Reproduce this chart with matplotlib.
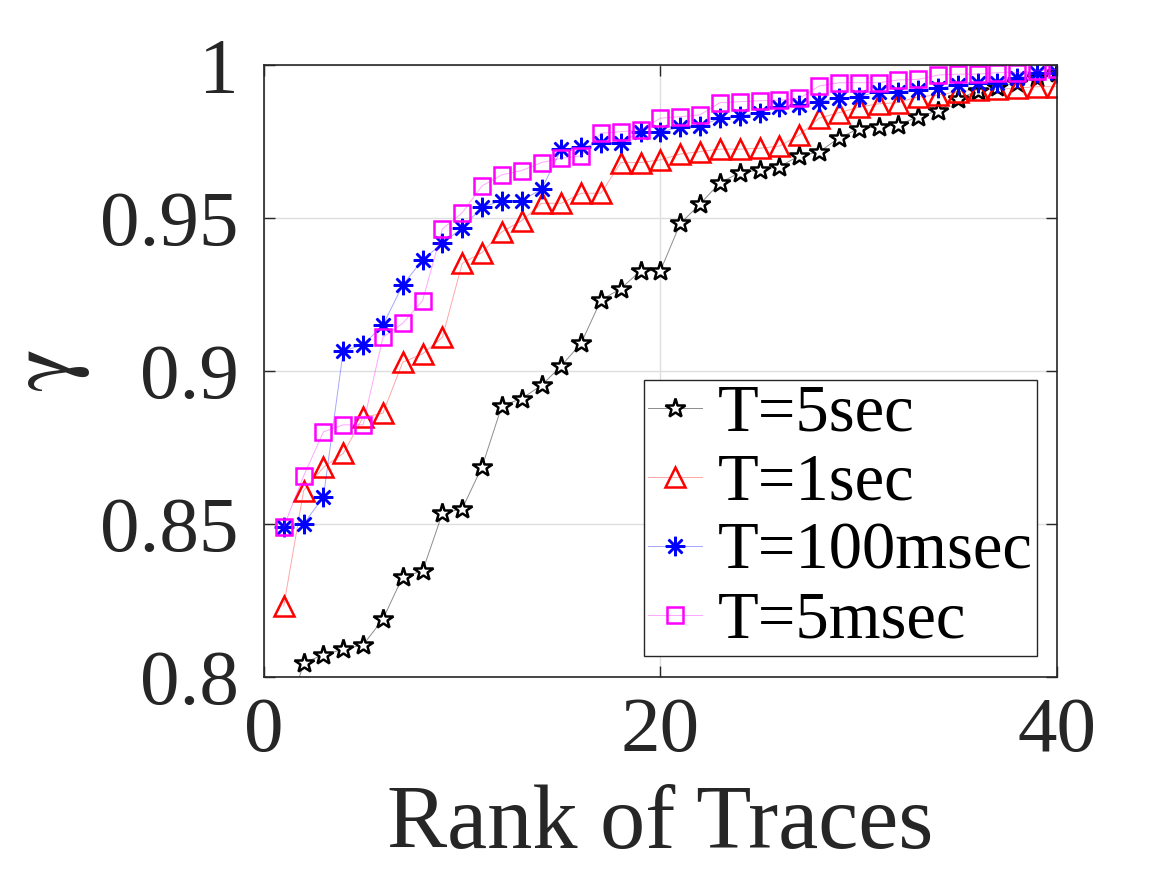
import numpy as np
import matplotlib
matplotlib.use('Agg')
import matplotlib.pyplot as plt

# Values
rank = np.arange(1, 41)

gamma_5sec = [0.782, 0.8046, 0.8071, 0.8090, 0.8104, 0.8188, 0.8327, 0.8345, 0.8534, 0.8549,
              0.8686, 0.8885, 0.8909, 0.8952, 0.9016, 0.9090, 0.9231, 0.9268, 0.9327, 0.9327,
              0.9481, 0.9545, 0.9614, 0.9647, 0.9656, 0.9667, 0.9702, 0.9715, 0.9760, 0.9791,
              0.9797, 0.9803, 0.9830, 0.9849, 0.9887, 0.9915, 0.9926, 0.9941, 0.9955, 0.9974]

gamma_1sec = [0.8232, 0.8608, 0.8684, 0.8730, 0.8848, 0.8861, 0.9028, 0.9055, 0.9109, 0.9351,
              0.9386, 0.9454, 0.9490, 0.9547, 0.9547, 0.9580, 0.9580, 0.9680, 0.9680, 0.9689,
              0.9708, 0.9716, 0.9724, 0.9724, 0.9727, 0.9734, 0.9770, 0.9825, 0.9843, 0.9861,
              0.9872, 0.9876, 0.9895, 0.9901, 0.9912, 0.9917, 0.9920, 0.9923, 0.9928, 0.9928]

gamma_100msec = [0.8490, 0.8499, 0.8588, 0.9065, 0.9084, 0.9149, 0.9280, 0.9362, 0.9416, 0.9467,
                 0.9534, 0.9556, 0.9556, 0.9593, 0.9724, 0.9730, 0.9743, 0.9745, 0.9781, 0.9781,
                 0.9795, 0.9800, 0.9825, 0.9832, 0.9843, 0.9863, 0.9868, 0.9879, 0.9890, 0.9895,
                 0.9912, 0.9912, 0.9917, 0.9923, 0.9934, 0.9939, 0.9939, 0.9955, 0.9972, 0.9974]

gamma_5msec = [0.8490, 0.8656, 0.8800, 0.8823, 0.8823, 0.9109, 0.9155, 0.9229, 0.9463, 0.9516,
               0.9604, 0.9640, 0.9654, 0.9680, 0.9694, 0.9702, 0.9776, 0.9781, 0.9787, 0.9825,
               0.9830, 0.9836, 0.9876, 0.9879, 0.9882, 0.9884, 0.9890, 0.9930, 0.9941, 0.9941,
               0.9941, 0.9950, 0.9952, 0.9966, 0.9969, 0.9969, 0.9974, 0.9974, 0.9980, 0.9985]

x_ticks = [0, 20, 40]
y_ticks = [0.8, 0.85, 0.9, 0.95, 1.0]
y_tick_labels = ['0.8', '0.85', '0.9', '0.95', '1']

plt.rcParams['font.family'] = ['Liberation Serif', 'DejaVu Serif']
plt.rcParams['mathtext.fontset'] = 'stix'

fig = plt.figure(figsize=(11.67, 8.75), dpi=100)
ax = fig.add_axes([0.2262, 0.2266, 0.6795, 0.6995])

asterisk = (8, 2, 0)
ax.plot(rank, gamma_5sec, color=(0, 0, 0, 0.45), lw=0.7, marker='*', ms=15,
        mfc='white', mec='k', mew=1.8, label='T=5sec')
ax.plot(rank, gamma_1sec, color=(1, 0, 0, 0.35), lw=0.7, marker='^', ms=14,
        mfc='none', mec='red', mew=1.8, label='T=1sec')
ax.plot(rank, gamma_100msec, color=(0, 0, 1, 0.35), lw=0.7, marker=asterisk, ms=14,
        mfc='none', mec='blue', mew=1.8, label='T=100msec')
ax.plot(rank, gamma_5msec, color=(1, 0, 1, 0.35), lw=0.7, marker='s', ms=11,
        mfc='none', mec='magenta', mew=1.8, label='T=5msec')

ax.set_xlim(0, 40)
ax.set_ylim(0.8, 1.0)
ax.set_xticks(x_ticks)
ax.set_yticks(y_ticks)
ax.set_yticklabels(y_tick_labels)
ax.grid(True, color='#dedede', lw=1)
ax.set_axisbelow(True)

ax.tick_params(direction='in', top=True, right=True, length=8, width=1,
               labelsize=57, colors='#262626')
ax.tick_params(axis='y', pad=18)
ax.tick_params(axis='x', pad=14)
for s in ax.spines.values():
    s.set_color('#262626')
    s.set_linewidth(1.2)

ax.set_xlabel('Rank of Traces', fontsize=65, color='#262626', labelpad=12)
ax.set_ylabel(r'$\mathrm{\gamma}$', fontsize=66, color='#262626', rotation=90,
              labelpad=6)

leg = ax.legend(loc='lower right', bbox_to_anchor=(0.975, 0.034), borderaxespad=0,
                fontsize=48, handlelength=0.8, handletextpad=0.25, labelspacing=0.12,
                borderpad=0.06, fancybox=False, framealpha=1, edgecolor='#262626')
leg.get_frame().set_linewidth(1.0)

fig.savefig('out.png', dpi=100)
